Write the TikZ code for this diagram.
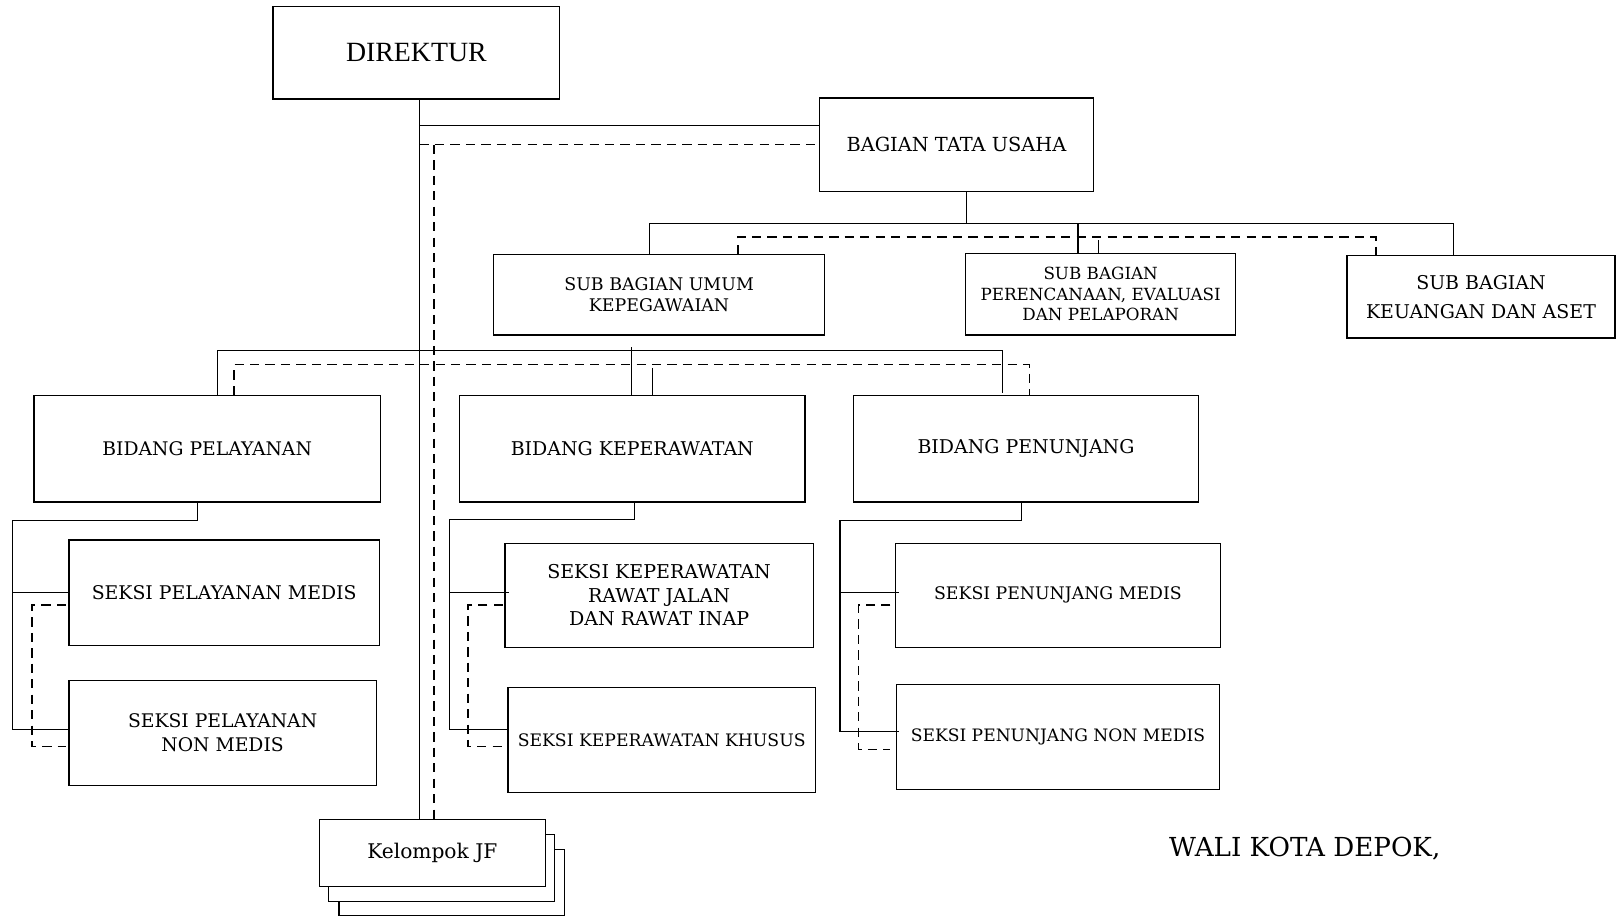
\documentclass[tikz,border=0pt]{standalone}
\usepackage{fontspec}
\setmainfont{DejaVu Serif}
\newfontfamily\timesfont{Liberation Serif}
\newcommand{\fs}[2]{\fontsize{#1}{#2}\selectfont}
\tikzset{
  box/.style={draw, line width=1.2pt, inner sep=0pt, align=center},
  conn/.style={line width=1.2pt},
  dconn/.style={line width=1.2pt, dash pattern=on 9pt off 6pt},
}
\begin{document}
\begin{tikzpicture}[x=1pt,y=-1pt]
\useasboundingbox (0,0) rectangle (1568,889);
% boxes
\node[box, minimum width=278pt, minimum height=90pt, font=\timesfont\fs{27}{32}] (dir) at (404,51) {DIREKTUR};
\node[box, minimum width=266pt, minimum height=91pt, font=\fs{18.8}{22}] (tu) at (928,140.5) {BAGIAN TATA USAHA};
\node[box, minimum width=321pt, minimum height=78pt, font=\fs{16.9}{21}] (sbu) at (639.5,286) {SUB BAGIAN UMUM\\KEPEGAWAIAN};
\node[box, minimum width=262pt, minimum height=79pt, font=\fs{16.25}{20}] (sbp) at (1068,285.5) {SUB BAGIAN\\PERENCANAAN, EVALUASI\\DAN PELAPORAN};
\node[box, minimum width=260pt, minimum height=80pt, font=\fs{18.4}{28}] (sbk) at (1437,288) {SUB BAGIAN\\KEUANGAN DAN ASET};
\node[box, minimum width=336pt, minimum height=103pt, font=\fs{18.2}{22}] (bp) at (201,435.5) {BIDANG PELAYANAN};
\node[box, minimum width=335pt, minimum height=103pt, font=\fs{18.4}{22}] (bk) at (613.5,435.5) {BIDANG KEPERAWATAN};
\node[box, minimum width=335pt, minimum height=103pt, font=\fs{18.4}{22}] (bpn) at (995.5,435.5) {BIDANG PENUNJANG};
\node[box, minimum width=301pt, minimum height=102pt, font=\fs{18.3}{22}] (spm) at (217.5,575) {SEKSI PELAYANAN MEDIS};
\node[box, minimum width=298pt, minimum height=102pt, font=\fs{18.2}{23}] (spnm) at (216,711) {SEKSI PELAYANAN\\NON MEDIS};
\node[box, minimum width=299pt, minimum height=101pt, font=\fs{18.5}{22.5}] (skr) at (639.5,577.5) {SEKSI KEPERAWATAN\\RAWAT JALAN\\DAN RAWAT INAP};
\node[box, minimum width=298pt, minimum height=102pt, font=\fs{16.7}{20}] (skk) at (642,718) {SEKSI KEPERAWATAN KHUSUS};
\node[box, minimum width=315pt, minimum height=101pt, font=\fs{16.8}{20}] (sjm) at (1026.5,577.5) {SEKSI PENUNJANG MEDIS};
\node[box, minimum width=313pt, minimum height=102pt, font=\fs{16.6}{20}] (sjnm) at (1026.5,715) {SEKSI PENUNJANG NON MEDIS};
% Kelompok JF stack
\node[box, fill=white, minimum width=219pt, minimum height=64pt] (jf3) at (438.5,856) {};
\node[box, fill=white, minimum width=219pt, minimum height=65pt] (jf2) at (428.5,842.5) {};
\node[box, fill=white, minimum width=219pt, minimum height=65pt, font=\fs{19.6}{23}] (jf) at (419.5,827.5) {Kelompok JF};
\node[anchor=base, font=\fs{25.4}{30}] (wali) at (1266,831) {WALI KOTA DEPOK,};
% trunk
\coordinate (tr) at (407,0);
\coordinate (dtr) at (421,0);
\draw[conn] (dir.south -| tr) -- (jf.north -| tr);
\draw[conn] (tr |- 0,122) -- (tu.west |- 0,122);
\draw[dconn] (tr |- tu.west) -- (tu.west);
\draw[dconn] (dtr |- tu.west) -- (jf.north -| dtr);
% tata usaha to sub bagian
\draw[conn] (tu.south -| 938,0) -- (938,217);
\draw[conn] (sbu.north -| 630,0) -- (630,217) -- (1410,217) -- (sbk.north -| 1410,0);
\draw[conn] (1046,217) -- (sbp.north -| 1046,0);
\draw[dconn] (sbu.north -| 716,0) -- (716,230) -- (1335,230) -- (sbk.north -| 1335,0);
\draw[conn] (1066,233) -- (sbp.north -| 1066,0);
% bidang level
\draw[conn] (bp.north -| 211,0) -- (211,340) -- (973,340) -- (973,381);
\draw[conn] (613,337) -- (bk.north -| 613,0);
\draw[dconn] (bp.north -| 227,0) -- (227,354) -- (999,354) -- (bpn.north -| 999,0);
\draw[conn] (633,357) -- (bk.north -| 633,0);
% bidang pelayanan
\draw[conn] (bp.south -| 192,0) -- (192,505) -- (12,505) -- (12,708) -- (spnm.west |- 0,708);
\draw[conn] (12,575) -- (spm.west);
\draw[dconn] (64,587) -- (31,587) -- (31,724) -- (64,724);
% bidang keperawatan
\draw[conn] (bk.south -| 616,0) -- (616,504) -- (436,504) -- (436,708) -- (493,708);
\draw[conn] (436,575) -- (494,575);
\draw[dconn] (488,587) -- (454,587) -- (454,724) -- (488,724);
% bidang penunjang
\draw[conn] (bpn.south -| 991,0) -- (991,505) -- (815,505) -- (815,710) -- (872,710);
\draw[conn] (815,575) -- (872,575);
\draw[dconn] (864,587) -- (833,587) -- (833,727) -- (864,727);
\end{tikzpicture}
\end{document}
